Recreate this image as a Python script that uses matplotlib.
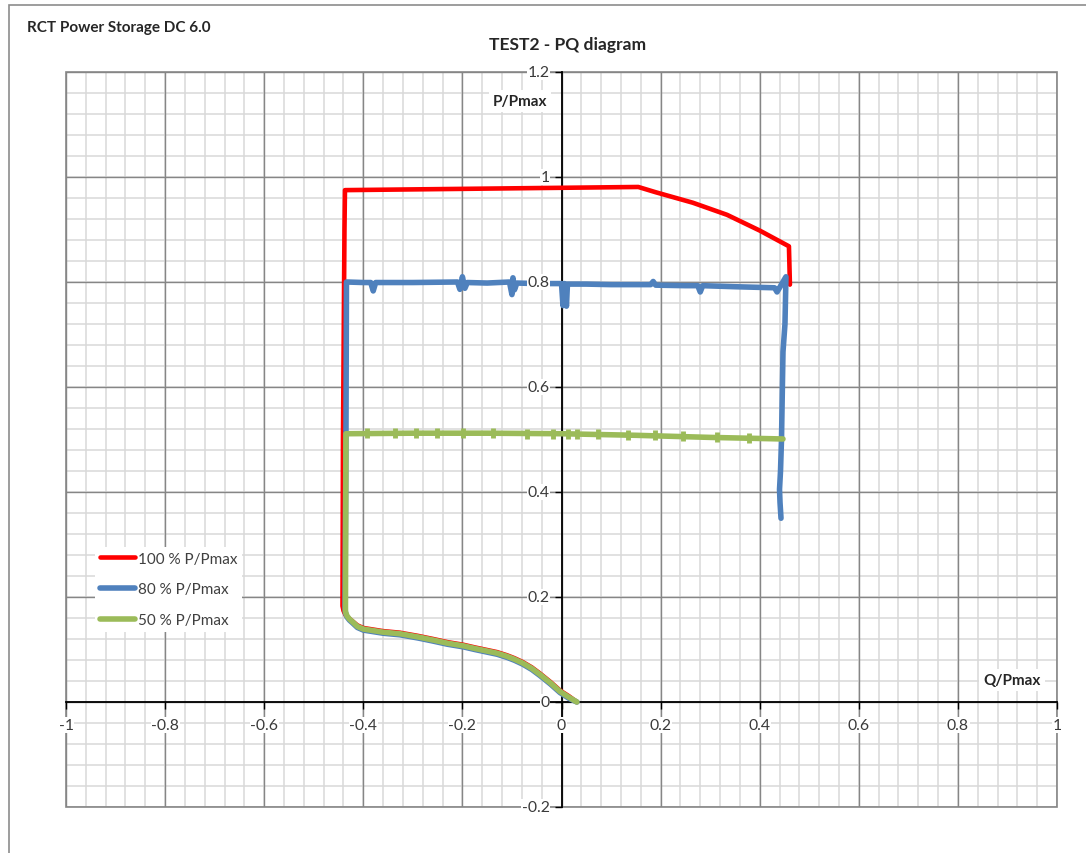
import numpy as np
import matplotlib
matplotlib.use("Agg")
import matplotlib.pyplot as plt
from matplotlib.patches import Rectangle

plt.rcParams['font.family'] = ['Lato', 'DejaVu Sans']

# ---- measured PQ operating points (Q/Pmax, P/Pmax) ----
# 100 % active power setpoint
red_q = [0.031, 0.015, -0.003, -0.022, -0.043, -0.060, -0.078, -0.095, -0.110, -0.130,
         -0.150, -0.175, -0.198, -0.230, -0.259, -0.290, -0.326, -0.360, -0.400, -0.412,
         -0.422, -0.430, -0.436, -0.440, -0.442, -0.441, -0.438, -0.437,
         0.155, 0.190, 0.265, 0.334, 0.400, 0.459, 0.461]
red_p = [0.000, 0.011, 0.022, 0.038, 0.054, 0.066, 0.076, 0.0835, 0.089, 0.095,
         0.099, 0.104, 0.109, 0.114, 0.120, 0.126, 0.132, 0.135, 0.141, 0.146,
         0.154, 0.160, 0.166, 0.174, 0.183, 0.500, 0.900, 0.975,
         0.981, 0.971, 0.951, 0.928, 0.898, 0.868, 0.795]

# 80 % active power setpoint
blue_q = [0.031, 0.015, -0.003, -0.022, -0.043, -0.060, -0.078, -0.095, -0.110, -0.130,
          -0.150, -0.175, -0.198, -0.230, -0.259, -0.290, -0.326, -0.360, -0.400, -0.412,
          -0.421, -0.428, -0.433, -0.436, -0.437, -0.435, -0.434,
          -0.400, -0.385, -0.380, -0.375, -0.300, -0.210, -0.205, -0.200, -0.195, -0.190,
          -0.150, -0.105, -0.100, -0.098, -0.095, -0.090, -0.050, 0.000, 0.003, 0.006,
          0.010, 0.012, 0.050, 0.100, 0.180, 0.185, 0.190, 0.250, 0.275, 0.280, 0.285,
          0.350, 0.430, 0.435, 0.440,
          0.453, 0.451, 0.447, 0.444, 0.442, 0.440, 0.441, 0.443]
blue_p = [0.000, 0.007, 0.018, 0.034, 0.050, 0.062, 0.072, 0.0795, 0.085, 0.091,
          0.095, 0.100, 0.105, 0.110, 0.116, 0.122, 0.128, 0.131, 0.137, 0.142,
          0.150, 0.156, 0.162, 0.170, 0.180, 0.500, 0.800,
          0.799, 0.799, 0.783, 0.799, 0.799, 0.800, 0.786, 0.810, 0.788, 0.799,
          0.798, 0.800, 0.776, 0.808, 0.785, 0.798, 0.797, 0.797, 0.755, 0.797,
          0.754, 0.796, 0.796, 0.795, 0.795, 0.801, 0.794, 0.793, 0.793, 0.781, 0.793,
          0.791, 0.789, 0.781, 0.789,
          0.810, 0.720, 0.667, 0.500, 0.440, 0.405, 0.380, 0.350]

# 50 % active power setpoint
green_q = [0.031, 0.015, -0.003, -0.022, -0.043, -0.060, -0.078, -0.095, -0.110, -0.130,
           -0.150, -0.175, -0.198, -0.230, -0.259, -0.290, -0.326, -0.360, -0.400, -0.412,
           -0.421, -0.428, -0.433, -0.436, -0.436, -0.435,
           -0.300, -0.150, 0.000, 0.150, 0.300, 0.447]
green_p = [0.000, 0.009, 0.020, 0.036, 0.052, 0.064, 0.074, 0.0815, 0.087, 0.093,
           0.097, 0.102, 0.107, 0.112, 0.118, 0.124, 0.130, 0.133, 0.139, 0.144,
           0.152, 0.158, 0.164, 0.172, 0.181, 0.511,
           0.512, 0.512, 0.511, 0.508, 0.504, 0.501]
# short transients on the 50 % run
green_spike_q = [-0.393, -0.336, -0.294, -0.251, -0.199, -0.138, -0.070, -0.017, 0.013,
                 0.031, 0.074, 0.134, 0.189, 0.245, 0.314, 0.378]
green_spike_p = [0.512, 0.512, 0.512, 0.512, 0.512, 0.512, 0.511, 0.511, 0.511,
                 0.510, 0.510, 0.509, 0.508, 0.507, 0.504, 0.503]

series_labels = ['100 % P/Pmax', '80 % P/Pmax', '50 % P/Pmax']

q_ticks = [-1.0, -0.8, -0.6, -0.4, -0.2, 0.0, 0.2, 0.4, 0.6, 0.8, 1.0]
q_tick_labels = ['-1', '-0.8', '-0.6', '-0.4', '-0.2', '0', '0.2', '0.4', '0.6', '0.8', '1']
p_ticks = [-0.2, 0.0, 0.2, 0.4, 0.6, 0.8, 1.0, 1.2]
p_tick_labels = ['-0.2', '0', '0.2', '0.4', '0.6', '0.8', '1', '1.2']

RED = '#ff0000'
BLUE = '#4f81bd'
GREEN = '#9bbb59'
MAJOR = '#868686'
MINOR = '#d9d9d9'

W, H = 1086, 854
fig = plt.figure(figsize=(W / 100, H / 100), dpi=100)
fig.patch.set_facecolor('white')

# chart-area frame
fig.patches.append(Rectangle((8.5 / W, -0.1), 1.2, (H - 5.5) / H + 0.1,
                             transform=fig.transFigure, fill=False,
                             edgecolor='#8c8c8c', lw=1.2))

ax = fig.add_axes([66 / W, 46 / H, 991 / W, 735 / H])
ax.set_xlim(-1, 1)
ax.set_ylim(-0.2, 1.2)

# grid: minor every 0.04, major every 0.2
minor_q = np.round(np.arange(-1, 1.0001, 0.04), 2)
minor_p = np.round(np.arange(-0.2, 1.2001, 0.04), 2)
for v in minor_q:
    ax.axvline(v, color=MINOR, lw=1.1, zorder=0.2)
for v in minor_p:
    ax.axhline(v, color=MINOR, lw=1.1, zorder=0.2)
for v in q_ticks:
    ax.axvline(v, color=MAJOR, lw=1.0, zorder=0.3)
for v in p_ticks:
    ax.axhline(v, color=MAJOR, lw=1.0, zorder=0.3)
ax.add_patch(Rectangle((0, 0), 1, 1, transform=ax.transAxes, fill=False,
                       edgecolor=MAJOR, lw=1.2, zorder=0.4, clip_on=False))

# axes crossing at the origin
for s in ('top', 'right'):
    ax.spines[s].set_visible(False)
ax.spines['left'].set_position(('data', 0))
ax.spines['bottom'].set_position(('data', 0))
for s in ('left', 'bottom'):
    ax.spines[s].set_color('black')
    ax.spines[s].set_linewidth(1.3)
    ax.spines[s].set_zorder(1.0)
ax.set_xticks(q_ticks)
ax.set_yticks(p_ticks)
ax.tick_params(direction='out', length=5, width=1, color='black',
               labelbottom=False, labelleft=False)
ax.set_axisbelow(True)

# data
l1, = ax.plot(red_q, red_p, color=RED, lw=3.3, solid_joinstyle='round',
              solid_capstyle='round', zorder=2)
l2, = ax.plot(blue_q, blue_p, color=BLUE, lw=4.0, solid_joinstyle='round',
              solid_capstyle='round', zorder=2.1)
l3, = ax.plot(green_q, green_p, color=GREEN, lw=4.0, solid_joinstyle='round',
              solid_capstyle='round', zorder=2.2)
ax.plot(green_spike_q, green_spike_p, ls='none', marker='|', ms=7, mew=3.5,
        color=GREEN, zorder=2.2)

# tick labels drawn on top with a white backing
lab_box = dict(facecolor='white', edgecolor='none', pad=0.5)
for q, lab in zip(q_ticks, q_tick_labels):
    ax.annotate(lab, (q, 0), xytext=(0, -23), textcoords='offset pixels',
                ha='center', va='center', fontsize=11.3, color='#3a3a3a',
                bbox=lab_box, zorder=6, annotation_clip=False)
for p, lab in zip(p_ticks, p_tick_labels):
    ax.annotate(lab, (0, p), xytext=(-12, 0), textcoords='offset pixels',
                ha='right', va='center', fontsize=11.3, color='#3a3a3a',
                bbox=lab_box, zorder=6, annotation_clip=False)

# axis titles
ax.text((520 - 66) / 991, (808 - 102) / 735, 'P/Pmax', transform=ax.transAxes,
        ha='center', va='center', fontsize=11, fontweight='bold', color='#262626',
        bbox=dict(facecolor='white', edgecolor='none', pad=3), zorder=6)
ax.text((1012 - 66) / 991, (808 - 681) / 735, 'Q/Pmax', transform=ax.transAxes,
        ha='center', va='center', fontsize=11, fontweight='bold', color='#262626',
        bbox=dict(facecolor='white', edgecolor='none', pad=3), zorder=6)

fig.text(567.5 / W, 1 - 45 / H, 'TEST2 - PQ diagram', ha='center', va='center',
         fontsize=12.6, fontweight='bold', color='#262626')
fig.text(27 / W, 1 - 28 / H, 'RCT Power Storage DC 6.0', ha='left', va='center',
         fontsize=11, fontweight='bold', color='#262626')

leg = ax.legend([l1, l2, l3], series_labels, loc='upper left',
                bbox_to_anchor=(95 / W, 1 - 548 / H), bbox_transform=fig.transFigure,
                frameon=True, fancybox=False, framealpha=1, facecolor='white',
                edgecolor='none', fontsize=11, handlelength=2.3, handletextpad=0.2,
                labelspacing=1.1, borderpad=0.3, borderaxespad=0)
leg.set_zorder(5)
for t in leg.get_texts():
    t.set_color('#404040')

fig.savefig('out.png', dpi=100, facecolor='white')
